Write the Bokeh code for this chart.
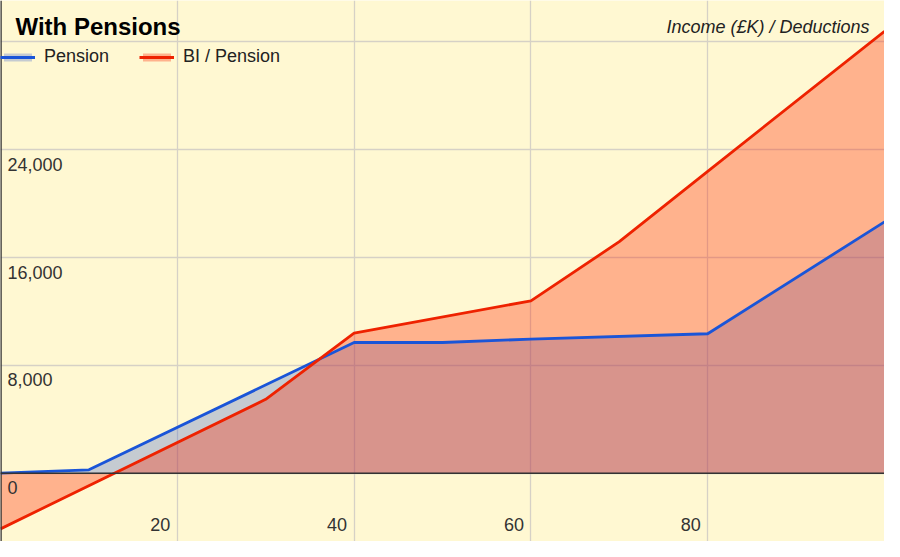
from bokeh.plotting import figure
from bokeh.models import (Range1d, FixedTicker, Span, Label, Legend, LegendItem,
                          ColumnDataSource)
from bokeh.core.properties import value
from bokeh.embed import file_html
from bokeh.resources import INLINE

# ---- data ----
pension_income = [0, 10, 40, 50, 60, 80, 100]
pension_values = [0, 250, 9700, 9700, 9950, 10350, 18650]

bi_income = [0, 30, 40, 60, 70, 80, 100]
bi_values = [-4130, 5480, 10400, 12790, 17180, 22400, 32790]

series_names = ["Pension", "BI / Pension"]

y_ticks = [0, 8000, 16000, 24000]
y_tick_labels = ["0", "8,000", "16,000", "24,000"]
y_grid = [0, 8000, 16000, 24000, 32000]
x_ticks = [20, 40, 60, 80]
x_tick_labels = ["20", "40", "60", "80"]
x_grid = [20, 40, 60, 80, 100]

title_text = "With Pensions"
axis_title_text = "Income (£K) / Deductions"

# ---- style ----
BG = "#fff8d2"
BLUE = "#1a55d8"
RED = "#ee2200"
FONT = "Liberation Sans"
W, H = 884, 541
X0, X1 = 0, 100
Y0, Y1 = -5067, 35077

p = figure(width=W, height=H, output_backend="svg", toolbar_location=None,
           x_range=Range1d(X0, X1), y_range=Range1d(Y0, Y1), min_border=0)
p.background_fill_color = BG
p.border_fill_color = BG
p.outline_line_color = None
p.xaxis.visible = False
p.yaxis.visible = False
p.xgrid.ticker = FixedTicker(ticks=x_grid)
p.ygrid.ticker = FixedTicker(ticks=y_grid)
for g in (p.xgrid, p.ygrid):
    g.grid_line_color = "#d6d1c6"
    g.grid_line_width = 1.3

a1 = p.varea(x=pension_income, y1=[0] * len(pension_income), y2=pension_values,
             fill_color="#3e64d0", fill_alpha=0.3)
a2 = p.varea(x=bi_income, y1=[0] * len(bi_income), y2=bi_values,
             fill_color="#ff2500", fill_alpha=0.33)
l1 = p.line(pension_income, pension_values, line_color=BLUE, line_width=2.8)
l2 = p.line(bi_income, bi_values, line_color=RED, line_width=2.8)

p.add_layout(Span(location=0, dimension="width", line_color="#333333", line_width=1.5))
p.add_layout(Span(location=X0, dimension="height", line_color="#333333", line_width=2.5))

ysrc = ColumnDataSource(dict(x=[X0] * len(y_ticks), y=y_ticks, t=y_tick_labels))
p.text(x="x", y="y", text="t", source=ysrc, text_font=value(FONT),
       text_font_size="18px", text_color="#333333", text_align="left",
       text_baseline="top", x_offset=7, y_offset=8)
xsrc = ColumnDataSource(dict(x=x_ticks, y=[Y0] * len(x_ticks), t=x_tick_labels))
p.text(x="x", y="y", text="t", source=xsrc, text_font=value(FONT),
       text_font_size="18px", text_color="#333333", text_align="right",
       text_baseline="middle", x_offset=-7, y_offset=-17)

p.add_layout(Label(x=15, y=H - 26, x_units="screen", y_units="screen", text=title_text,
                   text_font=FONT, text_font_size="24px", text_font_style="bold",
                   text_color="#000000", text_baseline="alphabetic"))
p.add_layout(Label(x=W - 15, y=H - 26, x_units="screen", y_units="screen",
                   text=axis_title_text, text_font=FONT, text_font_size="18px",
                   text_font_style="italic", text_color="#222222",
                   text_align="right", text_baseline="alphabetic"))

legend = Legend(items=[LegendItem(label=series_names[0], renderers=[a1, l1]),
                       LegendItem(label=series_names[1], renderers=[a2, l2])],
                orientation="horizontal", location=(0, H - 67),
                glyph_width=35, glyph_height=10, label_standoff=9, spacing=30,
                padding=0, margin=0, border_line_color=None,
                background_fill_alpha=0, label_text_font=FONT,
                label_text_font_size="18px", label_text_color="#222222")
p.add_layout(legend)

open("out.html", "w").write(file_html(p, INLINE))
